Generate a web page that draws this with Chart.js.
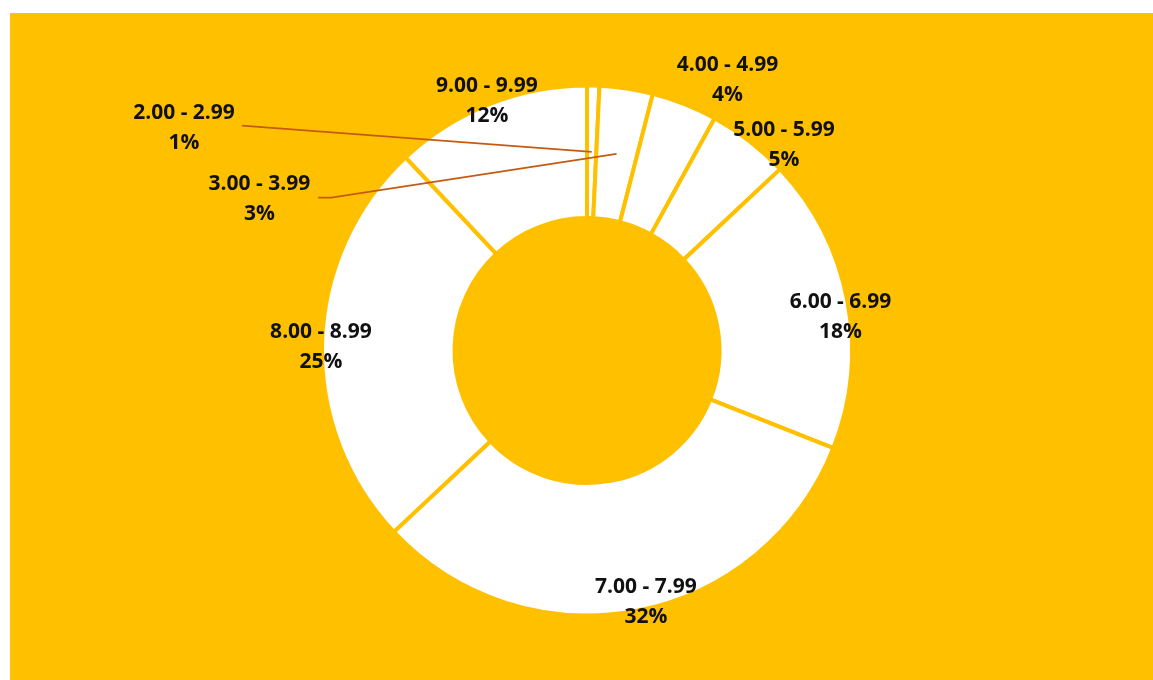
<!DOCTYPE html>
<html>
<head>
<meta charset="utf-8">
<script src="https://cdn.jsdelivr.net/npm/chart.js@4"></script>
<style>
  html, body { margin: 0; padding: 0; background: #fff; }
  .frame { position: relative; width: 1153px; height: 680px; overflow: hidden; }
  .panel { position: absolute; left: 10px; top: 13px; right: 0; bottom: 0; background: #FFC000; }
  canvas { position: absolute; left: 0; top: 0; }
</style>
</head>
<body>
<div class="frame">
  <div class="panel"></div>
  <canvas id="ringChart" width="1153" height="680"></canvas>
</div>
<script>
// ranges, clockwise from 12 o'clock
const categories = ['2.00 - 2.99', '3.00 - 3.99', '4.00 - 4.99', '5.00 - 5.99',
                    '6.00 - 6.99', '7.00 - 7.99', '8.00 - 8.99', '9.00 - 9.99'];
const shares = [0.75, 3.25, 4, 5, 18, 32, 25, 12];

// where each label sits: turn (deg) away from slice middle, distance as part of outer radius
const labelSpots = [
  { turn: -62.45, dist: 1.737, leader: { gap: 7, rise: -2.5, elbow: 0 } },
  { turn: -73.75, dist: 1.362, leader: { gap: 8, rise: -1.5, elbow: 13 } },
  { turn: 5.85, dist: 1.150 },
  { turn: 6.0, dist: 1.074 },
  { turn: 3.2, dist: 0.965 },
  { turn: -2.4, dist: 0.974 },
  { turn: -1.05, dist: 1.004 },
  { turn: -0.26, dist: 1.014 }
];

const total = shares.reduce((a, b) => a + b, 0);

const sliceLabels = {
  id: 'sliceLabels',
  afterDatasetsDraw(chart) {
    const ctx = chart.ctx;
    const meta = chart.getDatasetMeta(0);
    ctx.save();
    ctx.font = 'bold 21px "Open Sans", "Noto Sans", sans-serif';
    ctx.textAlign = 'center';
    ctx.textBaseline = 'middle';

    meta.data.forEach((arc, i) => {
      const p = arc.getProps(['x', 'y', 'startAngle', 'endAngle', 'outerRadius', 'innerRadius'], true);
      const spot = labelSpots[i];
      const mid = (p.startAngle + p.endAngle) / 2;
      const a = mid + spot.turn * Math.PI / 180;
      const lx = p.x + Math.cos(a) * p.outerRadius * spot.dist;
      const ly = p.y + Math.sin(a) * p.outerRadius * spot.dist;
      const line1 = categories[i];
      const line2 = Math.round(shares[i] / total * 100) + '%';

      if (spot.leader) {
        const w = ctx.measureText(line1).width;
        const sx = lx + w / 2 + spot.leader.gap;
        const sy = ly + spot.leader.rise;
        const rMid = (p.outerRadius + p.innerRadius) / 2;
        const ex = p.x + Math.cos(mid) * rMid;
        const ey = p.y + Math.sin(mid) * rMid;
        ctx.beginPath();
        ctx.strokeStyle = '#C55A11';
        ctx.lineWidth = 1.75;
        ctx.moveTo(sx, sy);
        ctx.lineTo(sx + spot.leader.elbow, sy);
        ctx.lineTo(ex, ey);
        ctx.stroke();
      }

      ctx.fillStyle = '#111';
      ctx.fillText(line1, lx, ly - 15);
      ctx.fillText(line2, lx, ly + 15);
    });
    ctx.restore();
  }
};

new Chart(document.getElementById('ringChart'), {
  type: 'doughnut',
  data: {
    labels: categories,
    datasets: [{
      data: shares,
      backgroundColor: '#FFFFFF',
      borderColor: '#FFC000',
      borderWidth: 4,
      hoverOffset: 0
    }]
  },
  options: {
    responsive: false,
    animation: false,
    radius: 265,
    cutout: '50%',
    layout: { padding: { left: 21, top: 21, right: 0, bottom: 0 } },
    plugins: {
      legend: { display: false },
      tooltip: { enabled: false }
    }
  },
  plugins: [sliceLabels]
});
</script>
</body>
</html>
